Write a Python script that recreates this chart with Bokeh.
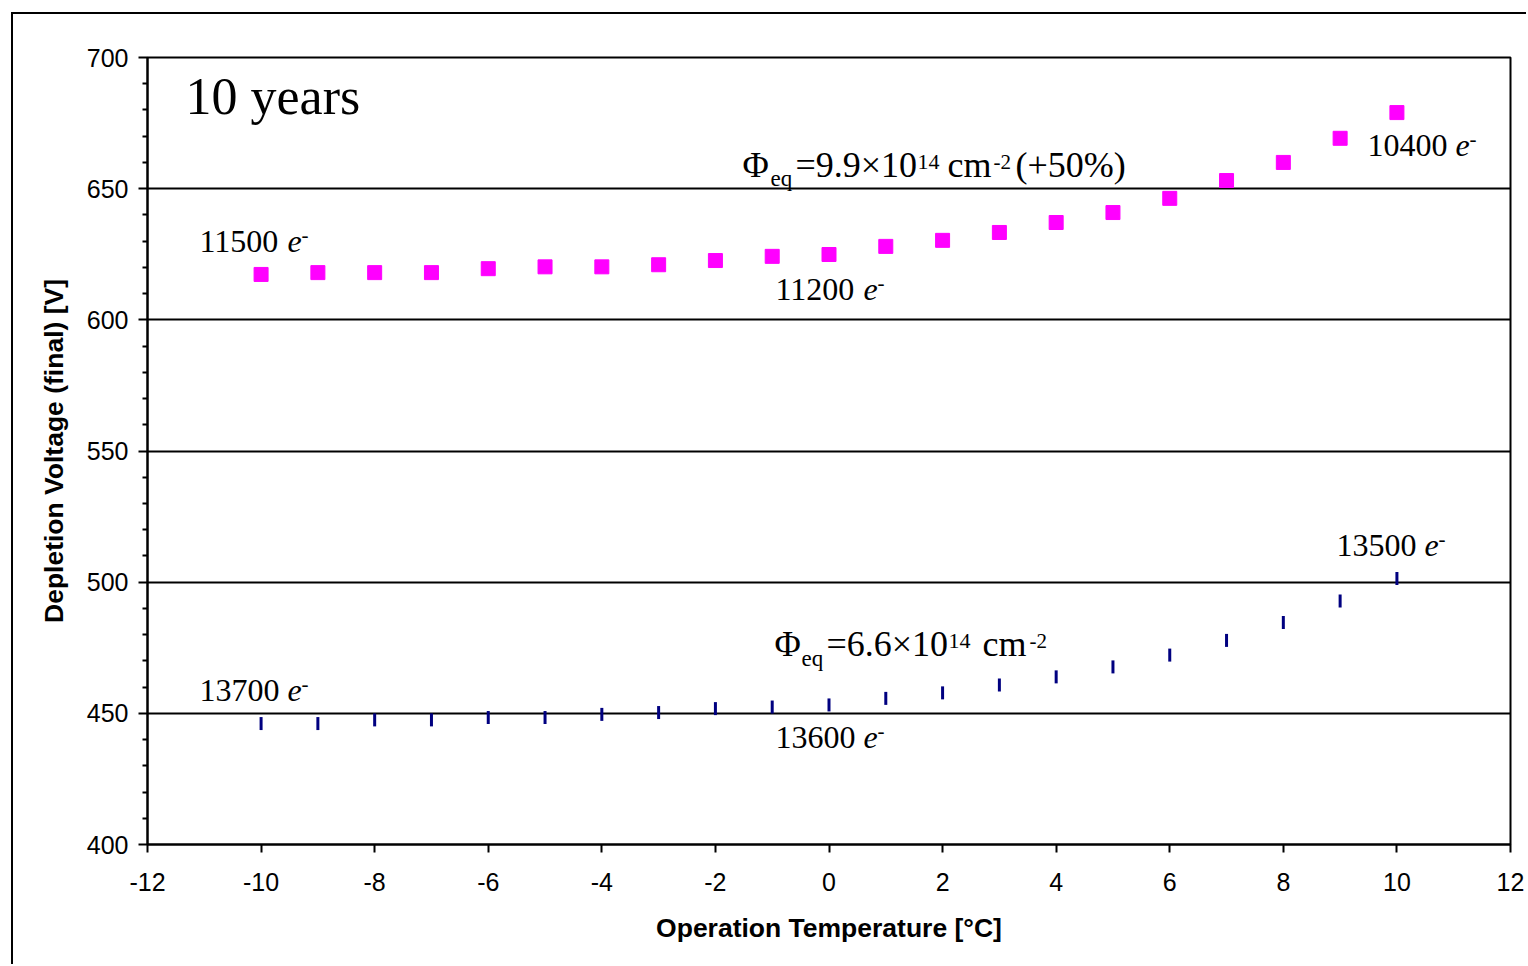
from bokeh.plotting import figure
from bokeh.models import Range1d, FixedTicker, ColumnDataSource, PrintfTickFormatter
from bokeh.core.properties import value
from bokeh.embed import file_html
from bokeh.resources import INLINE
import math

# ---------------- data ----------------
temperature = [-10, -9, -8, -7, -6, -5, -4, -3, -2, -1, 0, 1, 2, 3, 4, 5, 6, 7, 8, 9, 10]
v_high_fluence = [617.3, 618.0, 618.0, 618.0, 619.5, 620.2, 620.2, 621.0, 622.6, 624.2, 624.9,
                  628.0, 630.3, 633.3, 637.1, 640.9, 646.3, 653.1, 660.0, 669.2, 679.0]
v_low_fluence = [446.1, 446.1, 447.5, 447.5, 448.4, 448.4, 449.6, 450.3, 451.8, 452.4, 453.2,
                 455.7, 457.8, 460.8, 463.9, 467.7, 472.2, 477.8, 484.6, 492.8, 501.4]
x_ticks = [-12, -10, -8, -6, -4, -2, 0, 2, 4, 6, 8, 10, 12]
y_ticks = [400, 450, 500, 550, 600, 650, 700]
grid_levels = [450, 500, 550, 600, 650]

# ---------------- layout ----------------
W, H = 1515, 952          # figure size (outer border adds 2px + page offset)
OX, OY = 13, 14           # page offset of figure content
FL, FR, FT, FB = 147, 1510, 57, 844   # frame edges in page px

p = figure(width=W, height=H, output_backend="svg", toolbar_location=None,
           x_range=Range1d(-12, 12), y_range=Range1d(400, 700),
           min_border_left=FL - OX, min_border_right=OX + W - FR,
           min_border_top=FT - OY, min_border_bottom=OY + H - FB)
p.margin = (12, 0, 0, 11)
p.styles = {"border-left": "2px solid black", "border-top": "2px solid black"}

p.outline_line_color = "black"
p.outline_line_width = 2
p.background_fill_color = "white"
p.border_fill_color = "white"

p.xgrid.visible = False
p.ygrid.ticker = FixedTicker(ticks=grid_levels)
p.ygrid.grid_line_color = "black"
p.ygrid.grid_line_width = 2

for ax in (p.xaxis[0], p.yaxis[0]):
    ax.axis_line_color = "black"
    ax.axis_line_width = 2
    ax.major_tick_line_color = "black"
    ax.major_tick_line_width = 2
    ax.major_tick_in = 0
    ax.major_label_text_font = "Liberation Sans"
    ax.major_label_text_font_size = "25px"
    ax.major_label_text_color = "black"
    ax.axis_label_text_font = "Liberation Sans"
    ax.axis_label_text_font_size = "26.5px"
    ax.axis_label_text_font_style = "bold"
    ax.axis_label_text_color = "black"

p.xaxis.ticker = FixedTicker(ticks=x_ticks)
p.xaxis.formatter = PrintfTickFormatter(format="%d")
p.xaxis.major_tick_out = 8
p.xaxis.minor_tick_line_color = None
p.xaxis.major_label_standoff = 20
p.xaxis.axis_label = "Operation Temperature [°C]"
p.xaxis.axis_label_standoff = 19

p.yaxis.ticker = FixedTicker(ticks=y_ticks,
                             minor_ticks=[v for v in range(400, 701, 10) if v % 50])
p.yaxis.major_tick_out = 9
p.yaxis.minor_tick_out = 5
p.yaxis.minor_tick_in = 0
p.yaxis.minor_tick_line_color = "black"
p.yaxis.minor_tick_line_width = 2
p.yaxis.major_label_standoff = 10
p.yaxis.axis_label = "Depletion Voltage (final) [V]"
p.yaxis.axis_label_standoff = 15

src = ColumnDataSource(dict(t=temperature, hi=v_high_fluence, lo=v_low_fluence))
p.scatter("t", "hi", source=src, marker="square", size=14,
          fill_color="#FF00FF", line_color="#FF00FF")
p.scatter("t", "lo", source=src, marker="dash", size=13, angle=math.pi / 2,
          line_color="#000080", line_width=3)

# ---------------- annotations (page px -> data) ----------------
def dx(px):
    return -12 + (px - FL) * 24.0 / (FR - FL)

def dy(py):
    return 400 + (FB - py) * 300.0 / (FB - FT)

SERIF = "Liberation Serif"
pieces = [
    # text, left px, baseline px, size, style
    ("10 years", 185, 116, 52, "normal"),
    ("Φ", 742, 179, 36, "normal"), ("eq", 770, 187, 23, "normal"),
    ("=9.9×10", 795, 179, 36, "normal"), ("14", 917, 170, 22, "normal"),
    ("cm", 947, 179, 36, "normal"), ("-2", 993, 170, 21, "normal"),
    ("(+50%)", 1015, 179, 36, "normal"),
    ("Φ", 774, 658, 36, "normal"), ("eq", 801, 667, 23, "normal"),
    ("=6.6×10", 826, 658, 36, "normal"), ("14", 948, 649, 22, "normal"),
    ("cm", 982, 658, 36, "normal"), ("-2", 1029, 649, 21, "normal"),
]
e_labels = [("11500", 199, 253), ("11200", 775, 301), ("10400", 1367, 157),
            ("13700", 199, 702), ("13600", 775, 749), ("13500", 1336, 557)]
for num, x0, b in e_labels:
    pieces.append((num + " ", x0, b, 32, "normal"))
    pieces.append(("e", x0 + 88, b, 32, "italic"))
    pieces.append(("-", x0 + 102, b - 10, 21, "normal"))

for txt, px, py, sz, st in pieces:
    base = py - 0.39 * sz   # renderer places the alphabetic baseline lower
    p.text(x=[dx(px)], y=[dy(base)], text=[txt], text_font=value(SERIF),
           text_font_size=value(f"{sz}px"), text_font_style=st,
           text_color="black", text_align="left", text_baseline="alphabetic")

open("out.html", "w").write(file_html(p, INLINE))
